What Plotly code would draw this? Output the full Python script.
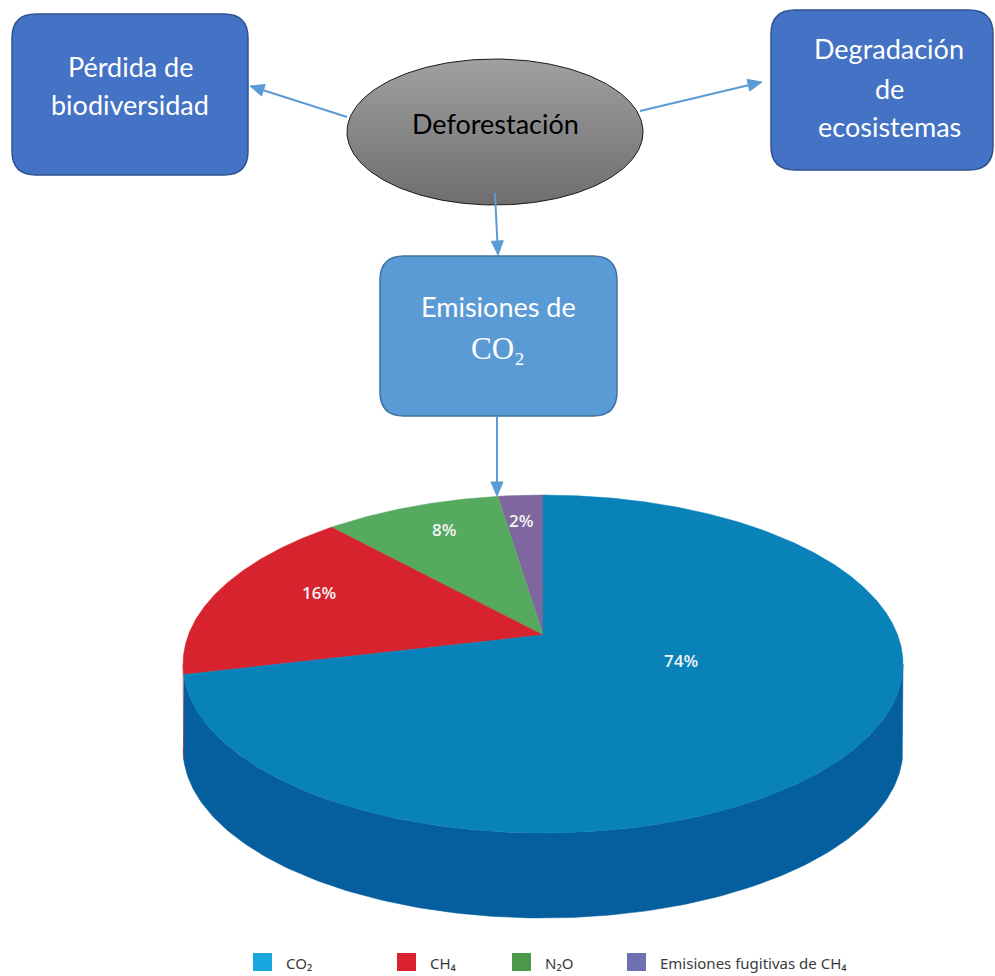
import numpy as np
import plotly.graph_objects as go

# ---- data -----------------------------------------------------------------
# Pie slices, counter-clockwise starting at 12 o'clock
slice_keys = ["fugitivas", "N2O", "CH4", "CO2"]
slice_shares = [2, 8, 16, 74]                      # percent
slice_labels = ["2%", "8%", "16%", "74%"]

# Legend entries (left to right)
legend_keys = ["CO2", "CH4", "N2O", "fugitivas"]
legend_texts = ["CO₂", "CH₄", "N₂O", "Emisiones fugitivas de CH₄"]

# Concept-map nodes
box_left_lines = ["Pérdida de", "biodiversidad"]
box_right_lines = ["Degradación", "de", "ecosistemas"]
center_text = "Deforestación"
box_mid_lines = ["Emisiones de", "CO₂"]

# ---- styles ---------------------------------------------------------------
top_colors = {"fugitivas": "#80669F", "N2O": "#56AA60", "CH4": "#D6232E", "CO2": "#0882B9"}
side_colors = {"fugitivas": "#5E4A7A", "N2O": "#3D8246", "CH4": "#A81A22", "CO2": "#055E9E"}
legend_colors = {"fugitivas": "#6F70B0", "N2O": "#4C9A49", "CH4": "#D92130", "CO2": "#1AA7DF"}
label_radius = [0.68, 0.68, 0.67, 0.41]
label_turn = [1.5, 2.3, 3.3, 22.0]

W, H = 995, 976
CX, CY, RX, RY = 543, 664, 360, 169      # top face ellipse
APEX = (543, 635)                        # where the slices meet
DEPTH = 85                               # thickness of the disc

BOX_FILL = "#4472C4"
BOX_LINE = "#2F528F"
MID_FILL = "#5B9BD5"
MID_LINE = "#41719C"
ARROW = "#5B9BD5"
TEXT_FONT = "Lato"


def ell(theta_deg):
    t = np.radians(theta_deg)
    return CX - RX * np.sin(t), CY - RY * np.cos(t)


def round_rect(x0, y0, x1, y1, r):
    return (f"M{x0 + r},{y0} L{x1 - r},{y0} Q{x1},{y0} {x1},{y0 + r} "
            f"L{x1},{y1 - r} Q{x1},{y1} {x1 - r},{y1} L{x0 + r},{y1} "
            f"Q{x0},{y1} {x0},{y1 - r} L{x0},{y0 + r} Q{x0},{y0} {x0 + r},{y0} Z")


def add_arrow(fig, start, end, head_len=14, head_half=6):
    sx, sy = start
    ex, ey = end
    d = np.array([ex - sx, ey - sy], dtype=float)
    d /= np.hypot(*d)
    n = np.array([-d[1], d[0]])
    bx, by = ex - d[0] * head_len, ey - d[1] * head_len
    fig.add_shape(type="line", x0=sx, y0=sy, x1=bx, y1=by,
                  line=dict(color=ARROW, width=2))
    p1 = (bx + n[0] * head_half, by + n[1] * head_half)
    p2 = (bx - n[0] * head_half, by - n[1] * head_half)
    fig.add_shape(type="path",
                  path=f"M{ex},{ey} L{p1[0]:.2f},{p1[1]:.2f} L{p2[0]:.2f},{p2[1]:.2f} Z",
                  fillcolor=ARROW, line=dict(color=ARROW, width=1))


fig = go.Figure()

# ---- 3D pie ---------------------------------------------------------------
bounds = np.concatenate([[0], np.cumsum(slice_shares)]) / sum(slice_shares) * 360.0

# visible side walls (front half of the disc: 90..270 deg)
for key, a, b in zip(slice_keys, bounds[:-1], bounds[1:]):
    lo, hi = max(a, 90.0), min(b, 270.0)
    if hi <= lo:
        continue
    th = np.linspace(lo, hi, 200)
    xs, ys = ell(th)
    px = np.concatenate([xs, xs[::-1]])
    py = np.concatenate([ys, ys[::-1] + DEPTH])
    fig.add_trace(go.Scatter(x=px, y=py, mode="lines", fill="toself",
                             fillcolor=side_colors[key], line=dict(width=0.5, color=side_colors[key]),
                             hoverinfo="skip", showlegend=False))

# top face sectors
for key, a, b in zip(slice_keys, bounds[:-1], bounds[1:]):
    th = np.linspace(a, b, max(int((b - a) * 3), 10))
    xs, ys = ell(th)
    px = np.concatenate([[APEX[0]], xs, [APEX[0]]])
    py = np.concatenate([[APEX[1]], ys, [APEX[1]]])
    fig.add_trace(go.Scatter(x=px, y=py, mode="lines", fill="toself",
                             fillcolor=top_colors[key], line=dict(width=0.5, color=top_colors[key]),
                             hoverinfo="skip", showlegend=False))

# percentage labels
for i, (a, b) in enumerate(zip(bounds[:-1], bounds[1:])):
    ang = (a + b) / 2 + label_turn[i]
    ex, ey = ell(ang)
    lx = APEX[0] + label_radius[i] * (ex - CX)
    ly = APEX[1] + label_radius[i] * (ey - CY)
    fig.add_annotation(x=lx, y=ly, text=slice_labels[i], showarrow=False,
                       font=dict(family="Open Sans", size=17, color="#F2F4F2", weight=600))

# ---- legend -------------------------------------------------------------
legend_x = [253, 397, 512, 627]
for key, txt, x0 in zip(legend_keys, legend_texts, legend_x):
    fig.add_shape(type="rect", x0=x0, x1=x0 + 19, y0=953, y1=971,
                  fillcolor=legend_colors[key], line=dict(width=0))
    fig.add_annotation(x=x0 + 31, y=963, text=txt, showarrow=False, xanchor="left",
                       font=dict(family="Noto Sans", size=15, color="#3A3A3A"))

# ---- concept map ------------------------------------------------------------
fig.add_shape(type="path", path=round_rect(12, 14, 248, 175, 24),
              fillcolor=BOX_FILL, line=dict(color=BOX_LINE, width=1.5))
fig.add_shape(type="path", path=round_rect(771, 10, 993, 170, 24),
              fillcolor=BOX_FILL, line=dict(color=BOX_LINE, width=1.5))
fig.add_shape(type="path", path=round_rect(380, 256, 617, 416, 24),
              fillcolor=MID_FILL, line=dict(color=MID_LINE, width=1.5))

# gradient ellipse (lighter on top)
t = np.linspace(0, 2 * np.pi, 241)
fig.add_trace(go.Scatter(x=495 + 148 * np.cos(t), y=132 + 73 * np.sin(t), mode="lines",
                         fill="toself", line=dict(color="#1A1A1A", width=1),
                         fillgradient=dict(type="vertical",
                                           colorscale=[[0, "#6E6E6E"], [1, "#A0A0A0"]]),
                         hoverinfo="skip", showlegend=False))

for txt, y in zip(box_left_lines, [66, 104]):
    fig.add_annotation(x=130, y=y, text=txt, showarrow=False,
                       font=dict(family=TEXT_FONT, size=27, color="white"))
for txt, y in zip(box_right_lines, [48, 88, 126]):
    fig.add_annotation(x=889, y=y, text=txt, showarrow=False,
                       font=dict(family=TEXT_FONT, size=27, color="white"))
fig.add_annotation(x=495, y=123, text=center_text, showarrow=False,
                   font=dict(family=TEXT_FONT, size=27, color="black"))
fig.add_annotation(x=498, y=306, text=box_mid_lines[0], showarrow=False,
                   font=dict(family=TEXT_FONT, size=27, color="white"))
fig.add_annotation(x=498, y=348, text=box_mid_lines[1], showarrow=False,
                   font=dict(family="Liberation Serif, DejaVu Serif", size=31, color="white"))

# arrows between nodes
add_arrow(fig, (347, 117), (250, 86))
add_arrow(fig, (640, 111), (762, 82))
add_arrow(fig, (495, 193), (498, 255))
add_arrow(fig, (497, 417), (497, 496))

fig.update_layout(width=W, height=H, margin=dict(l=0, r=0, t=0, b=0),
                  paper_bgcolor="white", plot_bgcolor="white",
                  xaxis=dict(range=[0, W], visible=False, fixedrange=True),
                  yaxis=dict(range=[H, 0], visible=False, fixedrange=True),
                  showlegend=False)

fig.write_html("out.html")
